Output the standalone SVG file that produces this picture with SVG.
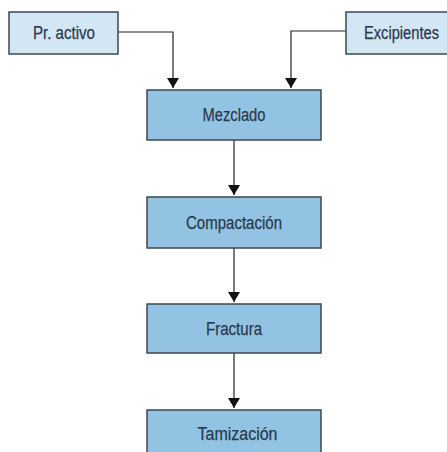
<svg xmlns="http://www.w3.org/2000/svg" width="447" height="452" viewBox="0 0 447 452">
  <defs>
    <marker id="arrow" viewBox="0 0 10 12" refX="10" refY="6" markerWidth="10" markerHeight="12" markerUnits="userSpaceOnUse" orient="auto">
      <path d="M0,0 L10,6 L0,12 Z" fill="#111"/>
    </marker>
    <style>
      .input rect { fill: #d3e6f4; stroke: #3e4750; stroke-width: 1.5; }
      .step rect { fill: #93c3e2; stroke: #3e4750; stroke-width: 1.5; }
      text { font-family: "Liberation Sans Narrow", "Liberation Sans", Arial, sans-serif; font-size: 17.5px; fill: #2a3a4c; stroke: #2a3a4c; stroke-width: 0.25; text-anchor: middle; }
      #connectors path { fill: none; stroke: #222; stroke-width: 1.2; marker-end: url(#arrow); }
    </style>
  </defs>
  <rect width="447" height="452" fill="#fff"/>

  <g id="connectors">
    <path d="M118,32 H173 V88"/>
    <path d="M346,31 H291 V88"/>
    <path d="M234,140 V195"/>
    <path d="M234,248 V302"/>
    <path d="M234,353 V408"/>
  </g>

  <g id="pr-activo" class="input">
    <rect x="9" y="12" width="109" height="42"/>
    <text x="64" y="38.5" textLength="62" lengthAdjust="spacingAndGlyphs">Pr. activo</text>
  </g>
  <g id="excipientes" class="input">
    <rect x="346" y="12" width="104" height="42"/>
    <text x="401.5" y="39" textLength="75" lengthAdjust="spacingAndGlyphs">Excipientes</text>
  </g>

  <g id="mezclado" class="step">
    <rect x="147" y="90" width="174" height="50"/>
    <text x="234" y="120.7" textLength="63" lengthAdjust="spacingAndGlyphs">Mezclado</text>
  </g>
  <g id="compactacion" class="step">
    <rect x="147" y="197" width="174" height="51"/>
    <text x="234" y="228.5" textLength="96" lengthAdjust="spacingAndGlyphs">Compactación</text>
  </g>
  <g id="fractura" class="step">
    <rect x="147" y="304" width="174" height="49"/>
    <text x="234" y="335" textLength="56" lengthAdjust="spacingAndGlyphs">Fractura</text>
  </g>
  <g id="tamizacion" class="step">
    <rect x="147" y="410" width="174" height="50"/>
    <text x="237.5" y="439.5" textLength="80" lengthAdjust="spacingAndGlyphs">Tamización</text>
  </g>
</svg>
